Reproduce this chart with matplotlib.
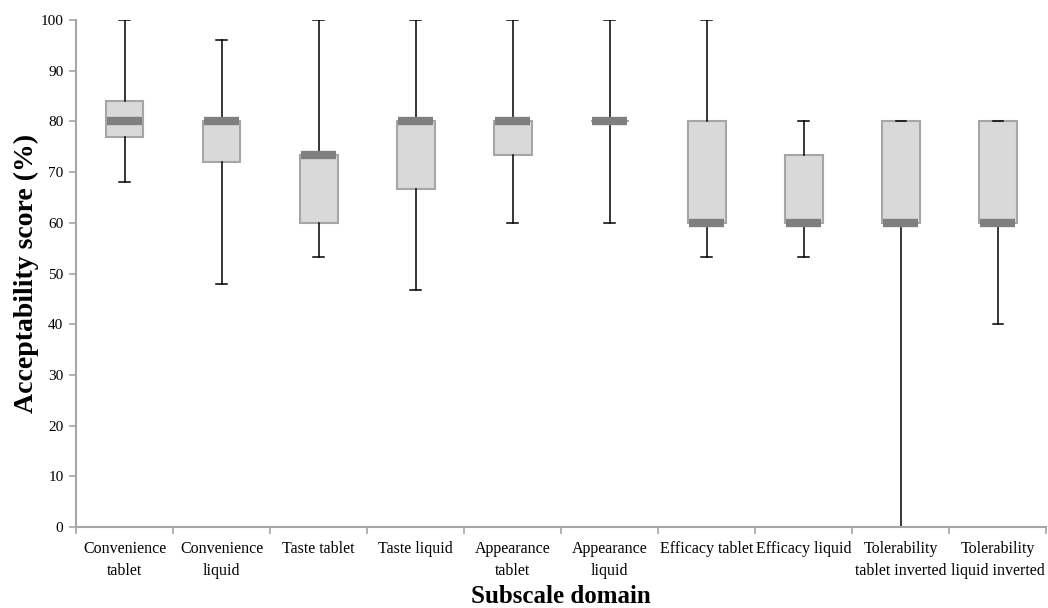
import matplotlib
matplotlib.use("Agg")
import matplotlib.pyplot as plt
import numpy as np

plt.rcParams['font.family'] = ['Liberation Serif', 'DejaVu Serif']

# subscale domains and box statistics (% scores)
domains = ["Convenience\ntablet", "Convenience\nliquid", "Taste tablet", "Taste liquid",
           "Appearance\ntablet", "Appearance\nliquid", "Efficacy tablet", "Efficacy liquid",
           "Tolerability\ntablet inverted", "Tolerability\nliquid inverted"]
whisker_low = [68, 48, 53.3, 46.7, 60, 60, 53.3, 53.3, 0, 40]
q1 = [77, 72, 60, 66.7, 73.3, 80, 60, 60, 60, 60]
median = [80, 80, 73.3, 80, 80, 80, 60, 60, 60, 60]
q3 = [84, 80, 73.3, 80, 80, 80, 80, 73.3, 80, 80]
whisker_high = [100, 96, 100, 100, 100, 100, 100, 80, 80, 80]

stats = []
for i in range(len(domains)):
    stats.append({'label': domains[i], 'whislo': whisker_low[i], 'q1': q1[i],
                  'med': median[i], 'q3': q3[i], 'whishi': whisker_high[i], 'fliers': []})

fig = plt.figure(figsize=(10.48, 6.08), dpi=100)
ax = fig.add_axes([0.0725, 0.133, 0.926, 0.834])

pos = np.arange(1, len(domains) + 1)
bp = ax.bxp(stats, positions=pos, widths=0.39, capwidths=0.11, patch_artist=True,
            showfliers=False,
            boxprops=dict(facecolor='#d9d9d9', edgecolor='#a6a6a6', linewidth=1.5),
            medianprops=dict(color='#7f7f7f', linewidth=6, solid_capstyle='butt'),
            whiskerprops=dict(color='black', linewidth=1.1),
            capprops=dict(color='black', linewidth=1.1))

# median bars sit just inside the box edges
for m in bp['medians']:
    x = m.get_xdata()
    m.set_xdata([x[0] + 0.015, x[1] - 0.015])

ax.set_xlim(0.5, len(domains) + 0.5)
ax.set_ylim(0, 100)
ax.set_yticks(np.arange(0, 101, 10))

# major ticks at the category boundaries, labels centred on the boxes
ax.set_xticks(np.arange(0.5, len(domains) + 1, 1))
ax.set_xticklabels([])
ax.set_xticks(pos, minor=True)
ax.set_xticklabels(domains, minor=True, fontsize=11.5, linespacing=1.5)
ax.tick_params(axis='x', which='minor', length=0, pad=10)
ax.tick_params(axis='x', which='major', length=5, color='#a6a6a6', width=1.2)
ax.tick_params(axis='y', length=5, color='#a6a6a6', width=1.2, labelsize=11, pad=4)

for side in ['top', 'right']:
    ax.spines[side].set_visible(False)
for side in ['left', 'bottom']:
    ax.spines[side].set_color('#a6a6a6')
    ax.spines[side].set_linewidth(1.5)

ax.set_ylabel("Acceptability score (%)", fontsize=20, fontweight='bold', labelpad=1)
ax.set_xlabel("Subscale domain", fontsize=18, fontweight='bold', labelpad=4)

fig.savefig("out.png", dpi=100)
